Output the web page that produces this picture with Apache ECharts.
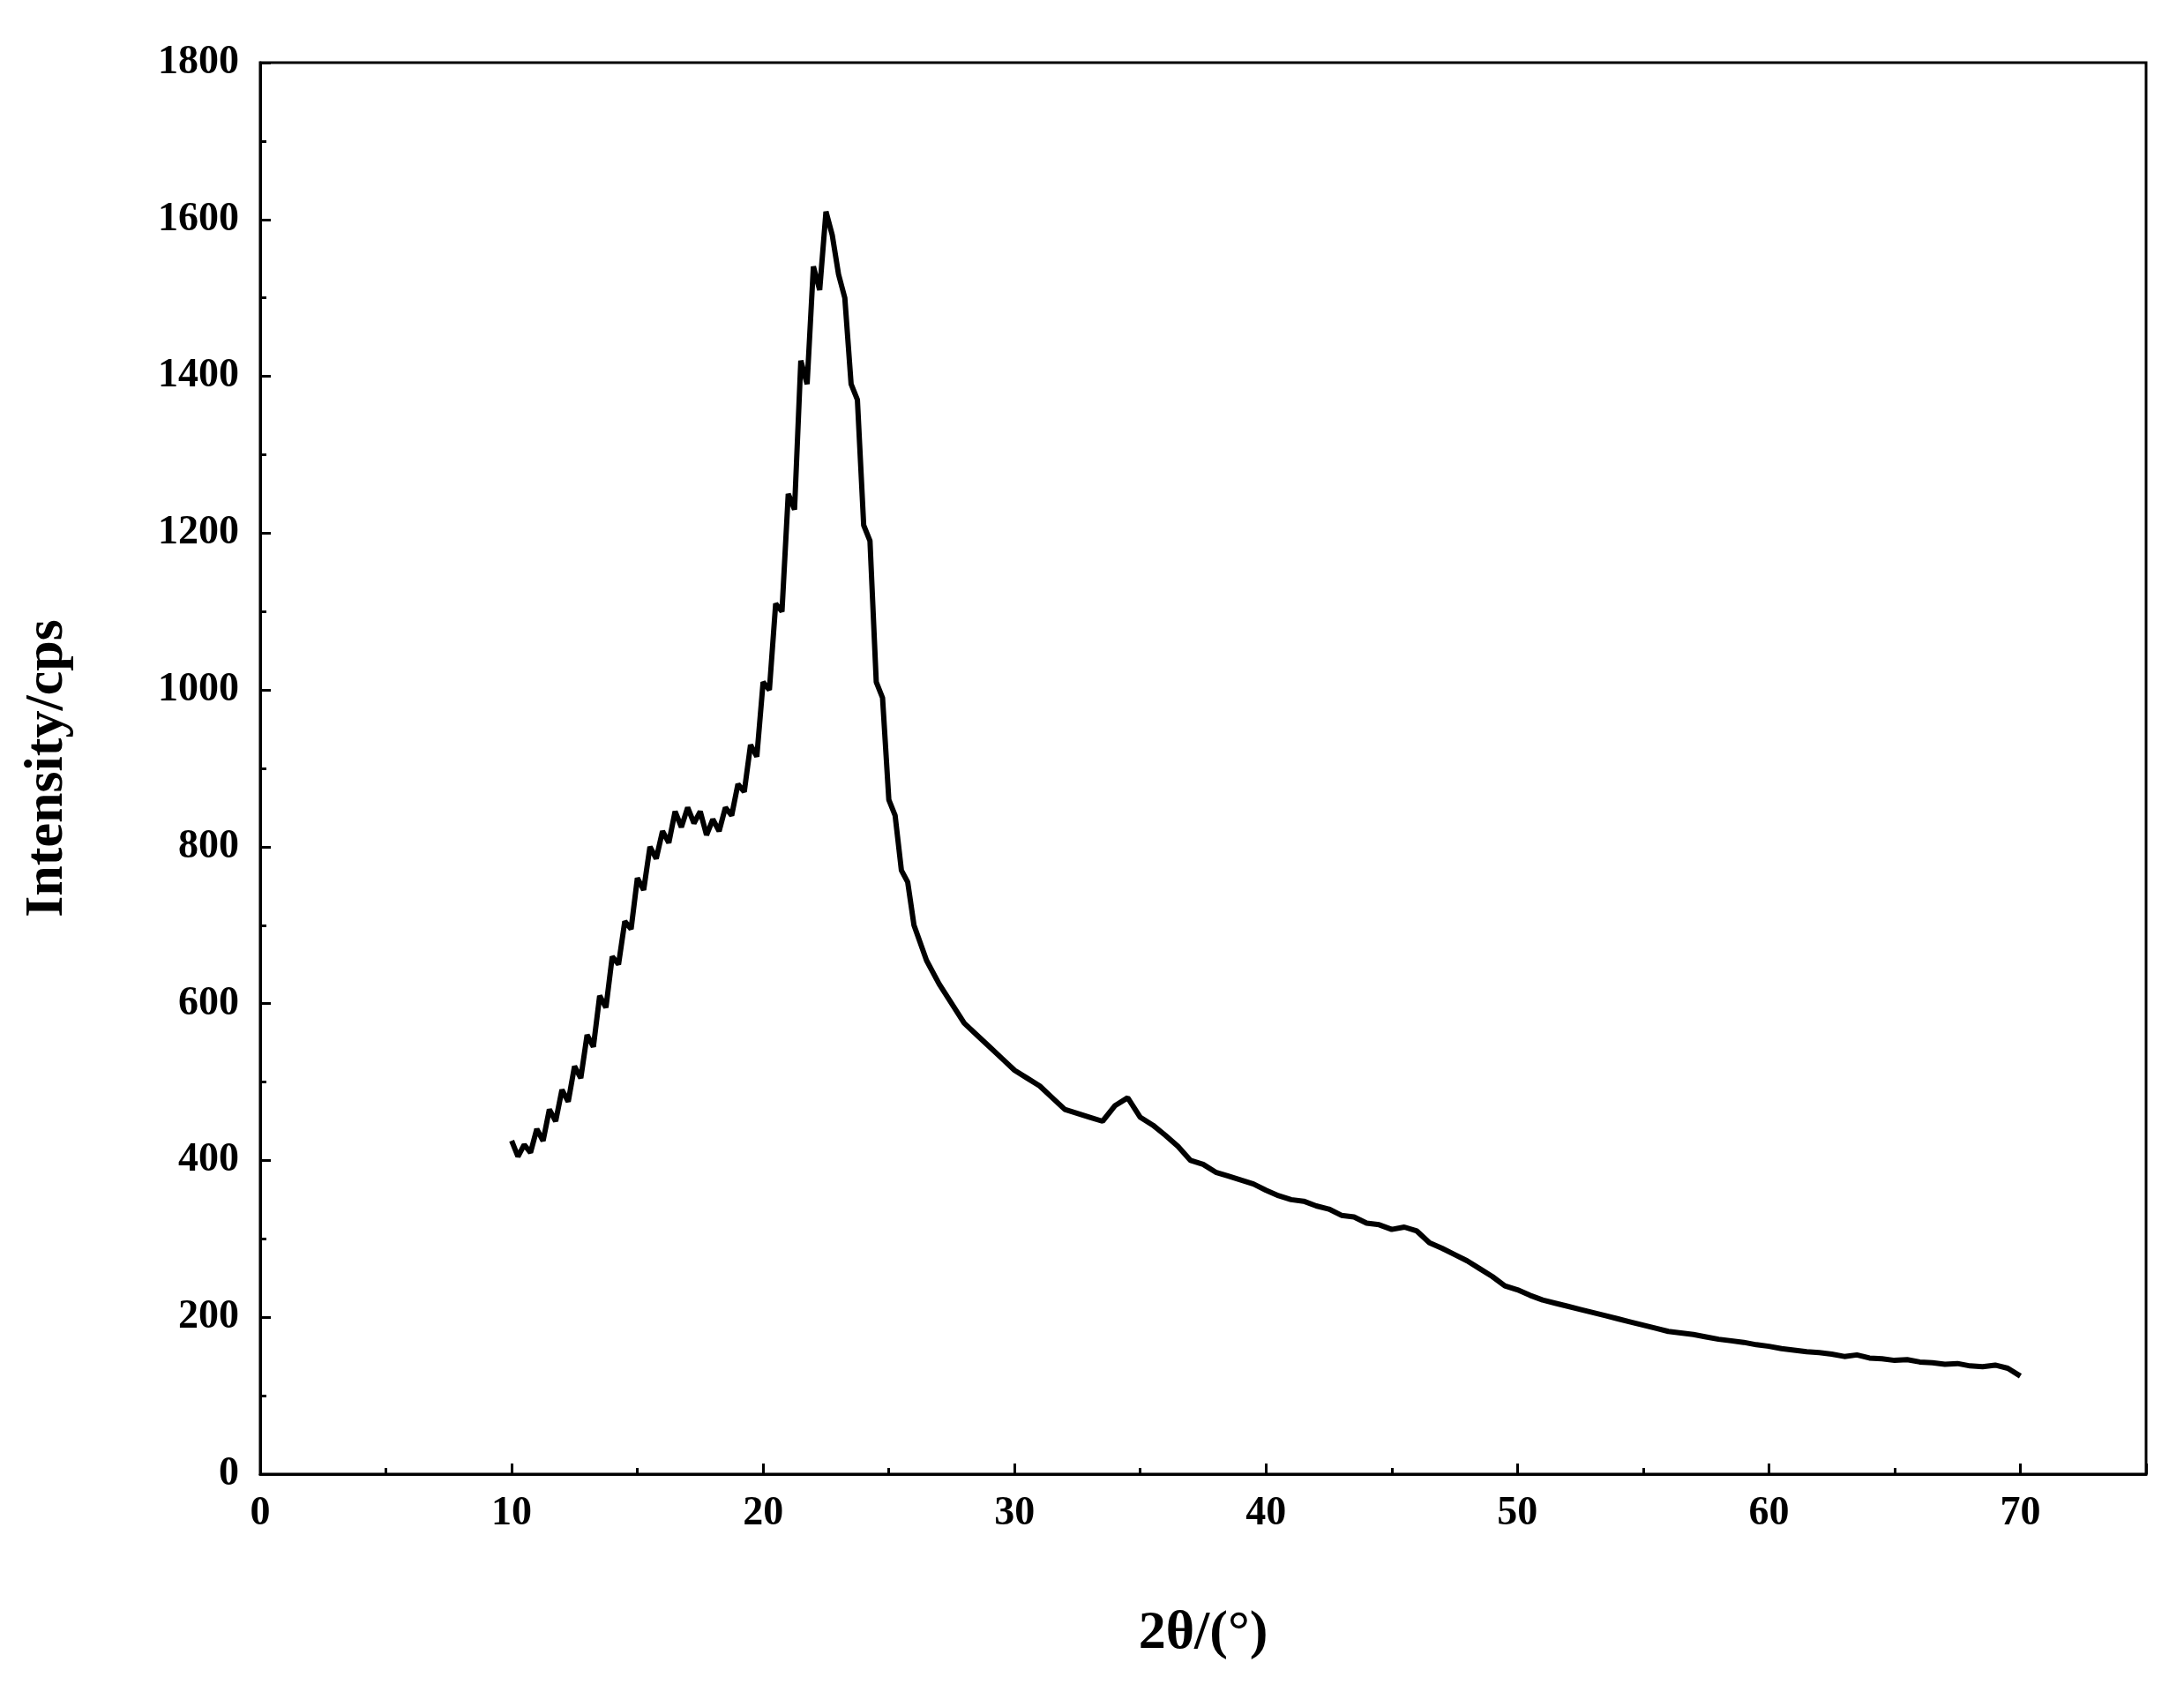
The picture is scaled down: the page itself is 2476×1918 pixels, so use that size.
<!DOCTYPE html>
<html>
<head>
<meta charset="utf-8">
<script src="https://cdn.jsdelivr.net/npm/echarts@6/dist/echarts.min.js"></script>
<style>html,body{margin:0;padding:0;background:#fff}#chart{width:2476px;height:1918px}</style>
</head>
<body>
<div id="chart"></div>
<script>
// 2theta (deg) and intensity
const twoTheta = [10,10.25,10.5,10.75,11,11.25,11.5,11.75,12,12.25,12.5,12.75,13,13.25,13.5,13.75,14,14.25,14.5,14.75,15,15.25,15.5,15.75,16,16.25,16.5,16.75,17,17.25,17.5,17.75,18,18.25,18.5,18.75,19,19.25,19.5,19.75,20,20.25,20.5,20.75,21,21.25,21.5,21.75,22,22.25,22.5,22.75,23,23.25,23.5,23.75,24,24.25,24.5,24.75,25,25.25,25.5,25.75,26,
  26.5,27,27.5,28,28.5,29,29.5,30,30.5,31,31.5,32,32.5,33,33.5,34,34.5,35,35.5,36,36.5,37,37.5,38,38.5,39,39.5,40,40.5,41,41.5,42,42.5,43,43.5,44,44.5,45,45.5,46,46.5,47,47.5,48,48.5,49,49.5,50,50.5,51,51.5,52,52.5,53,53.5,54,54.5,55,55.5,56,56.5,57,57.5,58,58.5,59,59.5,60,60.5,61,61.5,62,62.5,63,63.5,64,64.5,65,65.5,66,66.5,67,67.5,68,68.5,69,69.5,70];
const intensity = [425,405,420,410,440,425,465,450,490,475,520,505,560,545,610,595,660,650,705,695,760,745,800,785,820,805,845,825,850,830,845,815,835,820,850,840,880,870,930,915,1010,1000,1110,1100,1250,1230,1420,1390,1540,1510,1610,1580,1530,1500,1390,1370,1210,1190,1010,990,860,840,770,755,700,
  655,625,600,575,560,545,530,515,505,495,480,465,460,455,450,470,480,455,445,432,418,400,395,385,380,375,370,362,355,350,348,342,338,330,328,320,318,312,315,310,295,288,280,272,262,252,240,235,228,222,218,214,210,206,202,198,194,190,186,182,180,178,175,172,170,168,165,163,160,158,156,155,153,150,152,148,147,145,146,143,142,140,141,138,137,139,135,125];

const xTicks = [0,10,20,30,40,50,60,70];
const yTicks = [0,200,400,600,800,1000,1200,1400,1600,1800];

const font = '"Liberation Serif", "Times New Roman", serif';
const chart = echarts.init(document.getElementById('chart'));
chart.setOption({
  animation: false,
  backgroundColor: '#fff',
  grid: {left: 295, right: 43, top: 71, bottom: 247, show: true, borderColor: '#000', borderWidth: 3},
  xAxis: {
    type: 'value', min: 0, max: 75, interval: 10,
    name: '2θ/(°)', nameLocation: 'middle', nameGap: 150,
    nameTextStyle: {fontFamily: font, fontWeight: 'bold', fontSize: 62, color: '#000'},
    axisLine: {lineStyle: {color: '#000', width: 3}},
    axisTick: {inside: true, length: 12, lineStyle: {color: '#000', width: 3}},
    minorTick: {show: true, splitNumber: 2, length: 7, lineStyle: {color: '#000', width: 3}},
    axisLabel: {fontFamily: font, fontWeight: 'bold', fontSize: 46, color: '#000', margin: 22,
      formatter: v => xTicks.includes(v) ? String(v) : ''},
    splitLine: {show: false}
  },
  yAxis: {
    type: 'value', min: 0, max: 1800, interval: 200,
    name: 'Intensity/cps', nameLocation: 'middle', nameGap: 210, nameRotate: 90,
    nameTextStyle: {fontFamily: font, fontWeight: 'bold', fontSize: 62, color: '#000'},
    axisLine: {lineStyle: {color: '#000', width: 3}},
    axisTick: {inside: true, length: 12, lineStyle: {color: '#000', width: 3}},
    minorTick: {show: true, splitNumber: 2, length: 7, lineStyle: {color: '#000', width: 3}},
    axisLabel: {fontFamily: font, fontWeight: 'bold', fontSize: 46, color: '#000', margin: 24,
      formatter: v => yTicks.includes(v) ? String(v) : ''},
    splitLine: {show: false}
  },
  series: [{
    type: 'line', showSymbol: false,
    data: twoTheta.map((x, i) => [x, intensity[i]]),
    lineStyle: {color: '#000', width: 6}
  }]
});
</script>
</body>
</html>
